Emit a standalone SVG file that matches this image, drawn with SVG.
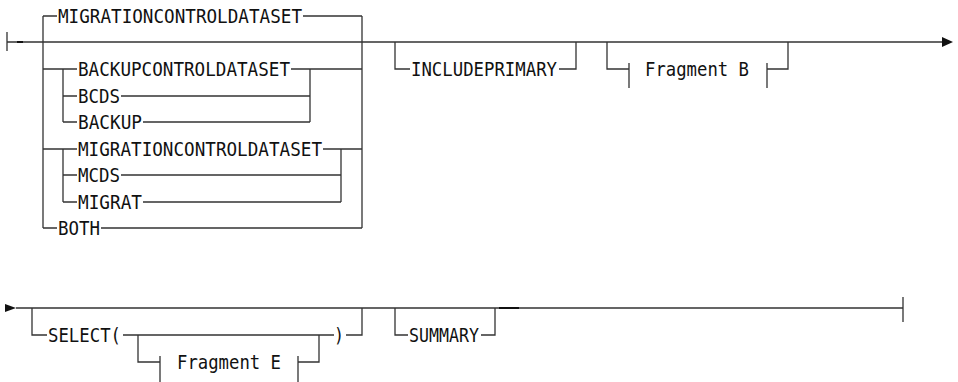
<svg xmlns="http://www.w3.org/2000/svg" width="958" height="382" viewBox="0 0 958 382">
<style>
  .ln { fill: none; stroke: #333; stroke-width: 1.3; }
  .dk { fill: none; stroke: #111; stroke-width: 2; }
  .t { font-family: "DejaVu Sans Mono", "Liberation Mono", monospace; font-size: 19px; fill: #111; }
  .ar { fill: #111; }
</style>
<rect width="958" height="382" fill="#fff"/>
<g id="connectors">
  <!-- line 1 -->
  <path class="ln" d="M7,32 V51 M7,42 H942"/>
  <path class="dk" d="M17,42 H23"/>
  <polygon class="ar" points="942,37 953,42 942,47"/>
  <!-- choice box outer -->
  <path class="ln" d="M43,16 V228 M362,16 V228"/>
  <path class="ln" d="M43,16 H57 M303,16 H362"/>
  <path class="ln" d="M43,228 H57 M101,228 H362"/>
  <!-- backup group -->
  <path class="ln" d="M43,69 H63 V122 M63,69 H77 M63,96 H77 M63,122 H77"/>
  <path class="ln" d="M291,69 H362 M310,69 V122 M121,96 H310 M143,122 H310"/>
  <!-- migration group -->
  <path class="ln" d="M43,149 H63 V202 M63,149 H77 M63,175 H77 M63,202 H77"/>
  <path class="ln" d="M323,149 H362 M341,149 V202 M121,175 H341 M143,202 H341"/>
  <!-- includeprimary -->
  <path class="ln" d="M395,42 V69 H410 M559,69 H576 V42"/>
  <!-- fragment B -->
  <path class="ln" d="M607,42 V69 H629 M629,63 V88 M767,63 V88 M767,69 H788 V42"/>
  <!-- line 2 -->
  <polygon class="ar" points="5,304 16,308 5,312"/>
  <path class="ln" d="M16,308 H903 M903,297 V322"/>
  <path class="ln" d="M32,308 V335 H47 M123,335 H334 M346,335 H362 V308"/>
  <path class="ln" d="M138,335 V362 H160 M160,356 V382 M298,356 V382 M298,362 H319 V335"/>
  <path class="ln" d="M395,308 V335 H408 M481,335 H495 V308"/>
  <path class="dk" d="M499,308 H519"/>
</g>
<g id="n-migrationcontroldataset-default"><text class="t" x="58" y="23" textLength="244" lengthAdjust="spacingAndGlyphs">MIGRATIONCONTROLDATASET</text></g>
<g id="n-backupcontroldataset"><text class="t" x="78" y="76" textLength="212" lengthAdjust="spacingAndGlyphs">BACKUPCONTROLDATASET</text></g>
<g id="n-bcds"><text class="t" x="78" y="103" textLength="42" lengthAdjust="spacingAndGlyphs">BCDS</text></g>
<g id="n-backup"><text class="t" x="78" y="129" textLength="64" lengthAdjust="spacingAndGlyphs">BACKUP</text></g>
<g id="n-migrationcontroldataset"><text class="t" x="78" y="156" textLength="244" lengthAdjust="spacingAndGlyphs">MIGRATIONCONTROLDATASET</text></g>
<g id="n-mcds"><text class="t" x="78" y="182" textLength="42" lengthAdjust="spacingAndGlyphs">MCDS</text></g>
<g id="n-migrat"><text class="t" x="78" y="209" textLength="64" lengthAdjust="spacingAndGlyphs">MIGRAT</text></g>
<g id="n-both"><text class="t" x="58" y="235" textLength="42" lengthAdjust="spacingAndGlyphs">BOTH</text></g>
<g id="n-includeprimary"><text class="t" x="411" y="76" textLength="146" lengthAdjust="spacingAndGlyphs">INCLUDEPRIMARY</text></g>
<g id="n-fragment-b"><text class="t" x="645" y="76" textLength="104" lengthAdjust="spacingAndGlyphs">Fragment B</text></g>
<g id="n-select"><text class="t" x="48" y="342" textLength="73" lengthAdjust="spacingAndGlyphs">SELECT(</text></g>
<g id="n-fragment-e"><text class="t" x="177" y="369" textLength="104" lengthAdjust="spacingAndGlyphs">Fragment E</text></g>
<g id="n-close-paren"><text class="t" x="334" y="342" textLength="10" lengthAdjust="spacingAndGlyphs">)</text></g>
<g id="n-summary"><text class="t" x="409" y="342" textLength="70" lengthAdjust="spacingAndGlyphs">SUMMARY</text></g>
</svg>
